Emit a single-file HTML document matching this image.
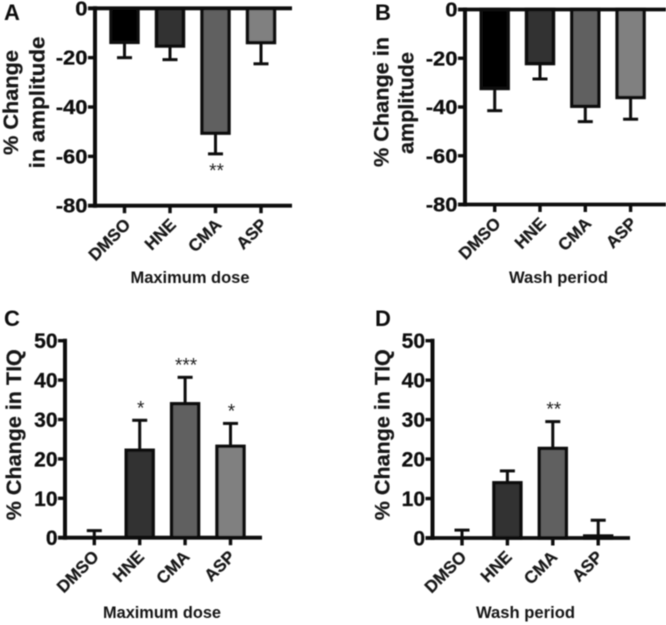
<!DOCTYPE html>
<html lang="en">
<head>
<meta charset="utf-8">
<title>Percent change in amplitude and TIQ</title>
<style>
html,body{margin:0;padding:0;background:#fff;width:666px;height:625px;overflow:hidden}
svg{display:block;font-family:"Liberation Sans",sans-serif}
</style>
</head>
<body>
<svg id="figure" width="666" height="625" viewBox="0 0 666 625" xmlns="http://www.w3.org/2000/svg">
<defs><filter id="soft" x="-2%" y="-2%" width="104%" height="104%"><feGaussianBlur stdDeviation="0.4"/></filter></defs>
<g id="root" filter="url(#soft)"></g>
</svg>
<script>
var categories = ['DMSO', 'HNE', 'CMA', 'ASP'];
var fills = ['#000000', '#333333', '#606060', '#808080'];

var ampTicks = [0, -20, -40, -60, -80];
var tiqTicks = [0, 10, 20, 30, 40, 50];

var valuesA = [-13.8, -15.3, -50.6, -13.9];
var errorsA = [-20, -20.8, -59, -22.5];
var starsA = ['', '', '**', ''];

var valuesB = [-32.4, -22.2, -39.7, -36.1];
var errorsB = [-41.5, -28.5, -46, -45];
var starsB = ['', '', '', ''];

var valuesC = [0, 22.2, 34, 23.2];
var errorsC = [1.8, 29.8, 40.7, 29];
var starsC = ['', '*', '***', '*'];

var valuesD = [0, 14, 22.7, 0.5];
var errorsD = [2, 17, 29.5, 4.5];
var starsD = ['', '', '**', ''];

var root = document.getElementById('root');
var NS = 'http://www.w3.org/2000/svg';

function mk(parent, tag, attrs, name, text) {
  var el = document.createElementNS(NS, tag);
  for (var k in attrs) el.setAttribute(k, attrs[k]);
  
  
  if (text !== undefined) el.textContent = text;
  parent.appendChild(el);
  return el;
}

function panel(cfg) {
  var g = mk(root, 'g', {}, 'panel-' + cfg.letter.toLowerCase());
  var min = cfg.min, max = cfg.max;
  function y(v) { return cfg.yTop + (max - v) / (max - min) * (cfg.yBottom - cfg.yTop); }
  function x(i) { return cfg.x0 + i * cfg.step; }
  var base = y(0);
  var ink = '#0c0c0c';

  mk(g, 'text', {x: cfg.letterX, y: cfg.letterY, 'font-size': 22, 'font-weight': 'bold', fill: ink}, 'panel-label', cfg.letter);

  categories.forEach(function (c, i) {
    var v = cfg.values[i], e = cfg.errors[i], cx = x(i);
    mk(g, 'line', {x1: cx, x2: cx, y1: y(v), y2: y(e), stroke: ink, 'stroke-width': 3}, 'error-stem-' + c.toLowerCase());
    mk(g, 'line', {x1: cx - 7.5, x2: cx + 7.5, y1: y(e), y2: y(e), stroke: ink, 'stroke-width': 3}, 'error-cap-' + c.toLowerCase());
    var top = Math.min(y(v), base), h = Math.abs(y(v) - base);
    mk(g, 'rect', {x: cx - 13.5, y: top, width: 27, height: h, fill: fills[i], stroke: '#111', 'stroke-width': 3.4}, 'bar-' + c.toLowerCase());
    if (cfg.stars[i]) {
      var sy = v < 0 ? y(e) + 23 : y(e) - 6;
      mk(g, 'text', {x: cx + 1, y: sy, 'font-size': 19, fill: '#222', 'text-anchor': 'middle'}, 'significance-' + c.toLowerCase(), cfg.stars[i]);
    }
  });

  var axisBottom = y(min);
  mk(g, 'line', {x1: cfg.axisX, x2: cfg.axisX, y1: cfg.yTop - 2, y2: cfg.yBottom + 2, stroke: ink, 'stroke-width': 4}, 'y-axis');
  mk(g, 'line', {x1: cfg.axisX - 7, x2: cfg.xEnd, y1: base, y2: base, stroke: ink, 'stroke-width': 3.8}, 'zero-line');
  if (min < 0) mk(g, 'line', {x1: cfg.axisX - 7, x2: cfg.xEnd, y1: axisBottom, y2: axisBottom, stroke: ink, 'stroke-width': 3.8}, 'x-axis');

  cfg.ticks.forEach(function (t) {
    mk(g, 'line', {x1: cfg.axisX - 7, x2: cfg.axisX, y1: y(t), y2: y(t), stroke: ink, 'stroke-width': 3.4}, 'y-tick');
    mk(g, 'text', {
      transform: 'translate(' + (cfg.axisX - 7.5) + ',' + (y(t) + cfg.tickDy) + ') scale(' + cfg.tickSx + ',1)',
      'font-size': cfg.tickSize, 'font-weight': 'bold', fill: ink, stroke: ink, 'stroke-width': 0.25, 'text-anchor': 'end'
    }, 'y-tick-label', String(t));
  });

  var xb = min < 0 ? axisBottom : base;
  categories.forEach(function (c, i) {
    var cx = x(i);
    mk(g, 'line', {x1: cx, x2: cx, y1: xb, y2: xb + 7.5, stroke: ink, 'stroke-width': 3.4}, 'x-tick-' + c.toLowerCase());
    mk(g, 'text', {
      transform: 'translate(' + (cx + cfg.labelDx) + ',' + (xb + 20) + ') rotate(-45)',
      'font-size': 17, 'font-weight': 'bold', fill: '#161616', stroke: '#161616', 'stroke-width': 0.2, 'text-anchor': 'end'
    }, 'x-tick-label-' + c.toLowerCase(), c);
  });

  cfg.yLabels.forEach(function (l) {
    mk(g, 'text', {
      transform: 'translate(' + l.x + ',' + l.cy + ') rotate(-90)',
      'font-size': 21, 'font-weight': 'bold', fill: '#161616', stroke: '#161616', 'stroke-width': 0.2, 'text-anchor': 'middle',
      textLength: l.len, lengthAdjust: 'spacingAndGlyphs'
    }, 'y-axis-title', l.text);
  });

  mk(g, 'text', {
    x: cfg.titleX, y: cfg.titleY, 'font-size': 16.5, 'font-weight': 'bold', fill: '#161616',
    'text-anchor': 'middle', textLength: cfg.titleLen, lengthAdjust: 'spacingAndGlyphs'
  }, 'x-axis-title', cfg.title);
}

panel({letter: 'A', letterX: 4, letterY: 20, min: -80, max: 0, yTop: 8.3, yBottom: 205.7,
  x0: 124.5, step: 45.5, axisX: 95, xEnd: 292, ticks: ampTicks, labelDx: 7,
  values: valuesA, errors: errorsA, stars: starsA, tickSize: 20, tickSx: 1.1, tickDy: 7,
  yLabels: [{text: '% Change', x: 18, cy: 102.5, len: 105}, {text: 'in amplitude', x: 44.5, cy: 102.5, len: 132}],
  title: 'Maximum dose', titleX: 190, titleY: 283, titleLen: 119});

panel({letter: 'B', letterX: 375, letterY: 20, min: -80, max: 0, yTop: 9.5, yBottom: 204.5,
  x0: 494.7, step: 45.3, axisX: 465, xEnd: 666, ticks: ampTicks, labelDx: 7,
  values: valuesB, errors: errorsB, stars: starsB, tickSize: 20, tickSx: 1.1, tickDy: 7,
  yLabels: [{text: '% Change in', x: 388.5, cy: 102, len: 130}, {text: 'amplitude', x: 413.5, cy: 103, len: 102}],
  title: 'Wash period', titleX: 558.5, titleY: 283, titleLen: 99});

panel({letter: 'C', letterX: 4, letterY: 326, min: 0, max: 50, yTop: 340.7, yBottom: 537.7,
  x0: 94.3, step: 45.4, axisX: 65, xEnd: 262, ticks: tiqTicks, labelDx: 5.5,
  values: valuesC, errors: errorsC, stars: starsC, tickSize: 21, tickSx: 1, tickDy: 7.5,
  yLabels: [{text: '% Change in TIQ', x: 21, cy: 434.7, len: 171}],
  title: 'Maximum dose', titleX: 162, titleY: 618, titleLen: 118});

panel({letter: 'D', letterX: 375, letterY: 326, min: 0, max: 50, yTop: 340.7, yBottom: 538,
  x0: 462, step: 45.4, axisX: 432.5, xEnd: 630, ticks: tiqTicks, labelDx: 5.5,
  values: valuesD, errors: errorsD, stars: starsD, tickSize: 21, tickSx: 1, tickDy: 7.5,
  yLabels: [{text: '% Change in TIQ', x: 389.5, cy: 434.7, len: 171}],
  title: 'Wash period', titleX: 525.5, titleY: 618, titleLen: 99});
</script>
</body>
</html>
